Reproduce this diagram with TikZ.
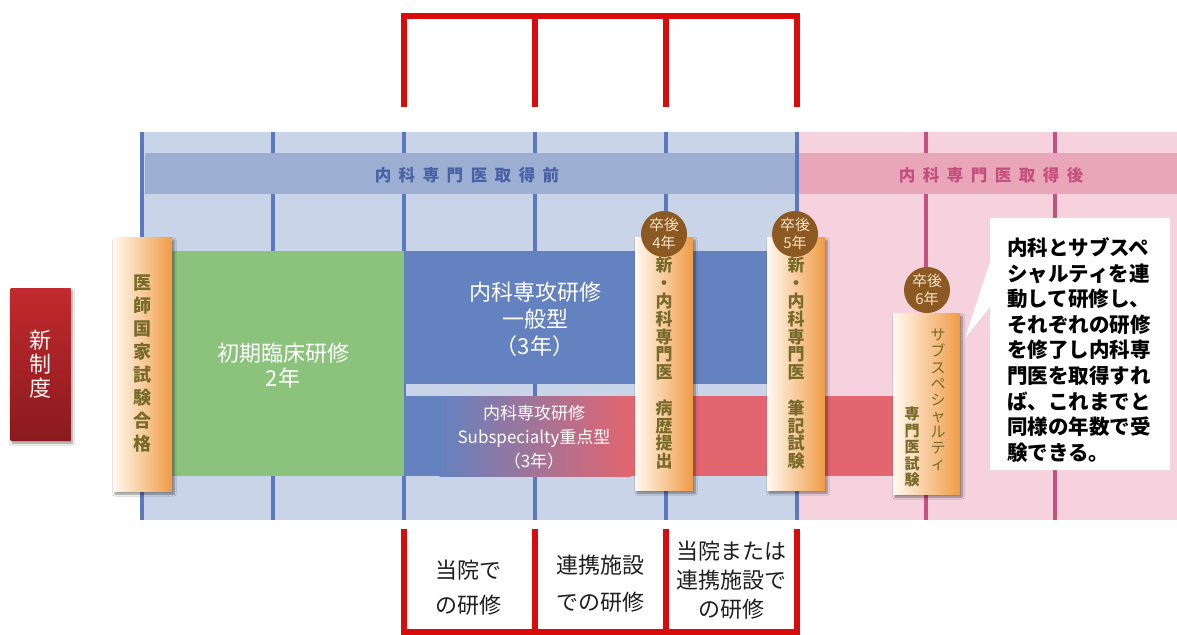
\documentclass[tikz,border=0pt]{standalone}
\usepackage{fontspec}
\setmainfont{Noto Sans CJK JP}
\usetikzlibrary{shadows.blur}
\definecolor{gbg}{HTML}{C9D4E9}
\definecolor{gband}{HTML}{9DAED3}
\definecolor{gline}{HTML}{5A7ABD}
\definecolor{pbg}{HTML}{F5D2DE}
\definecolor{pband}{HTML}{E9A6BB}
\definecolor{pline}{HTML}{C4517F}
\definecolor{btxt}{HTML}{4B61A6}
\definecolor{ptxt}{HTML}{C64E7D}
\definecolor{grn}{HTML}{8CC37C}
\definecolor{blk}{HTML}{6482C0}
\definecolor{rblk}{HTML}{E2656F}
\definecolor{pilL}{HTML}{FFF9F0}
\definecolor{pilR}{HTML}{F09C45}
\definecolor{pilT}{HTML}{786A2A}
\definecolor{brn}{HTML}{8D5923}
\definecolor{crm}{HTML}{F5E3C6}
\definecolor{brk}{HTML}{D80C0C}
\definecolor{newT}{HTML}{C22A2E}
\definecolor{newB}{HTML}{8A1A1E}
\newcommand\fs[2]{\fontsize{#1}{#2}\selectfont}
\newcommand\lsp{\hspace{7.5pt}}
\tikzset{
  gl/.style={line width=4pt, draw=gline},
  pl/.style={line width=4pt, draw=pline},
  pillar/.style={left color=pilL, right color=pilR, inner sep=0pt, text=pilT, align=center,
    blur shadow={shadow xshift=2pt, shadow yshift=-3pt, shadow opacity=45, shadow blur steps=6}},
  badge/.style={circle, fill=brn, minimum size=46pt, inner sep=0pt, text=crm, align=center, font=\fs{15}{17.5}},
  wtxt/.style={text=white, align=center},
  brkline/.style={draw=brk, line width=6pt},
  btm/.style={align=center, text=black!88},
}
\begin{document}
\begin{tikzpicture}[x=1pt,y=-1pt]
\useasboundingbox (0,0) rectangle (1177,634);
\fill[white] (0,0) rectangle (1177,634);
% backgrounds
\fill[gbg] (142,132) rectangle (797,520);
\fill[pbg] (797,132) rectangle (1177,520);
% grid lines
\foreach \x in {142,273,404,535,666,797} \draw[gl] (\x,132) -- (\x,520);
\foreach \x in {926,1055} \draw[pl] (\x,132) -- (\x,520);
% bands
\fill[gband] (144.5,153) rectangle (795,194);
\fill[pband] (799,153) rectangle (1177,194);
\node[text=btxt, font=\bfseries\fs{16.5}{18}] (hpre) at (467,175) {内\lsp 科\lsp 専\lsp 門\lsp 医\lsp 取\lsp 得\lsp 前};
\node[text=ptxt, font=\bfseries\fs{16.5}{18}] (hpost) at (991,175) {内\lsp 科\lsp 専\lsp 門\lsp 医\lsp 取\lsp 得\lsp 後};
% blocks
\fill[grn] (172,251) rectangle (404,476);
\fill[blk] (404,251) rectangle (780,384);
\fill[blk] (404,396) rectangle (440,476);
\shade[left color=blk, right color=rblk] (439.5,396) rectangle (630.5,476);
\fill[rblk] (630,396) rectangle (895,476);
\node[wtxt, font=\fs{22}{25}] (init) at (283,365.5) {初期臨床研修\\2年};
\node[wtxt, font=\fs{22}{27}] (gen) at (535,319.5) {内科専攻研修\\一般型\\（3年）};
\node[wtxt, font=\fs{17}{24}] (sub) at (534,437) {内科専攻研修\\Subspecialty重点型\\（3年）};
% new system box
\node[top color=newT, bottom color=newB, minimum width=60pt, minimum height=152pt, inner sep=0pt,
  text=white!95!red, align=center, font=\fs{22}{24},
  blur shadow={shadow xshift=1.5pt, shadow yshift=-3pt, shadow opacity=45, shadow blur steps=6}] (newsys) at (40.5,364) {新\\制\\度};
% pillars
\node[pillar, minimum width=59pt, minimum height=254pt, font=\bfseries\fs{18}{23}] (exam) at (142.5,364) {医\\師\\国\\家\\試\\験\\合\\格};
\node[pillar, minimum width=58pt, minimum height=253pt, font=\bfseries\fs{17}{17.8}] (rep) at (664,363.5) {新\\・\\内\\科\\専\\門\\医\\\mbox{}\\病\\歴\\提\\出};
\node[pillar, minimum width=58pt, minimum height=253pt, font=\bfseries\fs{17}{17.8}] (wri) at (796,363.5) {新\\・\\内\\科\\専\\門\\医\\\mbox{}\\筆\\記\\試\\験};
\node[pillar, minimum width=67pt, minimum height=181pt] (subx) at (926.5,403.5) {};
\node[text=pilT, align=center, font=\fs{15}{16.1}] (subA) at (938,400) {サ\\ブ\\ス\\ペ\\シ\\ャ\\ル\\テ\\ィ};
\node[text=pilT, align=center, font=\bfseries\fs{15}{16.5}] (subB) at (912,447) {専\\門\\医\\試\\験};
% badges
\node[badge] (b4) at (664,234) {卒後\\4年};
\node[badge] (b5) at (795,234) {卒後\\5年};
\node[badge] (b6) at (927,290) {卒後\\6年};
% callout
\fill[white] (990,218) -- (1170,218) -- (1170,470) -- (990,470) -- (990,307) -- (965,338) -- (990,262) -- cycle;
\node[align=left, text=black, font=\bfseries\fs{20.5}{25.6}] (note) at (1079,350) {内科とサブスペ\\シャルティを連\\動して研修し、\\それぞれの研修\\を修了し内科専\\門医を取得すれ\\ば、これまでと\\同様の年数で受\\験できる。};
% top bracket
\draw[brkline] (404,107) -- (404,16) -- (797,16) -- (797,107);
\draw[brkline] (535,16) -- (535,107);
\draw[brkline] (666,16) -- (666,107);
% bottom bracket
\draw[brkline] (404,529) -- (404,632) -- (797,632) -- (797,529);
\draw[brkline] (535,529) -- (535,632);
\draw[brkline] (666,529) -- (666,632);
\node[btm, font=\fs{22}{35}] (l1) at (468,588) {当院で\\の研修};
\node[btm, font=\fs{22}{37}] (l2) at (600,584) {連携施設\\での研修};
\node[btm, font=\fs{22}{29}] (l3) at (731,580) {当院または\\連携施設で\\の研修};
\end{tikzpicture}
\end{document}
